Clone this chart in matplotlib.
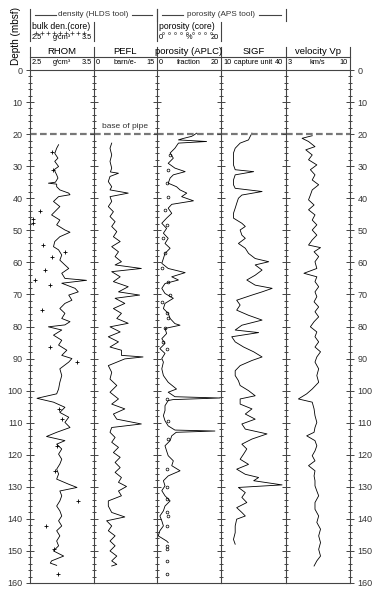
import numpy as np
import matplotlib.pyplot as plt
from matplotlib.ticker import MultipleLocator

plt.rcParams['font.family'] = ['Liberation Sans', 'DejaVu Sans']

# ---- log data (depth in mbsf, value in track units) ----
rhom_depth = [23.3, 24.4, 26.0, 27.5, 28.5, 30.1, 31.1, 32.7, 33.7, 35.0, 35.3, 35.6, 36.4, 37.4,
              38.4, 38.9, 39.5, 41.0, 42.6, 44.2, 45.2, 46.8, 48.3, 49.9, 50.6, 52.0, 53.5, 55.1,
              56.1, 57.7, 59.3, 60.8, 61.9, 63.4, 65.0, 65.6, 66.5, 68.1, 69.2, 70.2, 71.8, 72.8,
              74.4, 75.9, 77.5, 78.5, 79.5, 80.1, 81.1, 82.7, 84.3, 85.8, 87.4, 89.0, 90.0, 91.1,
              93.2, 95.3, 97.4, 99.5, 101.0, 102.4, 103.6, 105.2, 106.8, 108.3, 109.9, 111.5,
              113.0, 114.3, 115.6, 116.7, 118.2, 119.8, 121.4, 122.9, 124.5, 126.0, 127.6, 129.2,
              130.2, 131.3, 132.8, 134.4, 136.0, 137.5, 139.1, 140.6, 142.2, 143.7, 145.3, 146.9,
              148.4, 150.0, 151.6, 153.1, 153.8, 154.5]
rhom = [2.95, 2.92, 2.89, 2.94, 2.89, 2.95, 2.88, 2.92, 2.94, 2.90, 2.79, 2.92, 2.92, 2.97,
        3.11, 3.13, 2.95, 2.87, 2.97, 2.89, 2.84, 2.97, 2.92, 3.05, 3.13, 2.97, 2.89, 2.87,
        2.95, 3.00, 2.97, 3.05, 3.11, 3.00, 3.05, 3.39, 3.00, 3.21, 3.26, 3.11, 3.16, 3.05,
        2.97, 3.05, 3.00, 3.13, 3.05, 2.79, 3.00, 2.87, 3.00, 2.95, 3.08, 3.00, 3.16, 3.11,
        2.97, 3.00, 2.97, 2.95, 2.92, 2.61, 2.87, 3.05, 2.97, 3.11, 3.05, 3.13,
        2.92, 2.76, 3.05, 2.92, 3.00, 2.95, 3.00, 2.97, 2.92, 2.95, 2.92, 3.11,
        3.24, 2.97, 3.00, 2.97, 2.92, 2.97, 3.00, 2.95, 3.00, 2.92, 2.97, 2.92,
        2.95, 2.87, 3.03, 2.84, 2.82, 2.92]

core_den_depth = [25.5, 31.3, 44.0, 46.5, 47.8, 54.6, 56.7, 58.3, 62.5, 65.5, 67.1, 74.8,
                  86.5, 91.0, 105.7, 108.9, 117.2, 125.0, 134.4, 142.2, 149.5, 157.3]
core_den = [2.85, 2.86, 2.66, 2.55, 2.55, 2.70, 3.05, 2.85, 2.74, 2.58, 2.82, 2.69,
            2.81, 3.24, 2.96, 3.00, 2.92, 2.89, 3.25, 2.75, 2.88, 2.94]

pefl_depth = [22.8, 24.4, 26.5, 28.5, 30.6, 31.8, 32.2, 33.2, 34.8, 36.4, 37.4, 38.4, 39.5,
              41.0, 42.6, 44.2, 45.7, 47.3, 48.8, 50.4, 52.0, 53.5, 55.1, 56.7, 58.2, 59.8,
              60.8, 61.9, 62.9, 64.5, 66.0, 67.6, 69.2, 70.2, 71.2, 72.8, 74.4, 75.9, 77.5,
              79.0, 80.1, 81.7, 83.2, 84.8, 86.4, 87.4, 89.0, 89.5, 90.1, 92.2, 94.3, 96.4,
              98.4, 100.5, 102.6, 104.2, 105.7, 107.3, 108.9, 110.4, 111.5, 113.0, 114.6,
              116.1, 117.7, 119.3, 120.8, 122.4, 124.0, 125.5, 127.1, 128.6, 129.9, 131.3,
              132.8, 134.4, 136.0, 138.0, 139.4, 140.6, 142.2, 143.7, 145.3, 146.9, 148.4,
              150.0, 151.6, 153.1, 154.2, 154.7]
pefl = [4.3, 3.9, 4.3, 3.9, 4.3, 4.0, 5.9, 3.9, 3.5, 4.3, 3.9, 8.2, 3.9,
        4.3, 3.5, 4.7, 3.9, 5.1, 4.3, 5.5, 4.7, 6.3, 4.3, 5.9, 5.1, 6.6,
        5.1, 11.3, 4.3, 6.3, 4.7, 8.2, 5.9, 10.9, 5.1, 7.4, 4.7, 6.6, 5.5,
        8.2, 3.9, 6.3, 3.5, 5.9, 3.9, 6.6, 6.6, 11.7, 7.4, 3.5, 4.3, 3.9,
        5.5, 3.9, 5.9, 4.3, 7.4, 4.7, 5.5, 11.3, 4.3, 3.9, 5.1,
        4.3, 5.9, 4.7, 6.3, 5.1, 6.3, 5.1, 6.6, 5.9, 7.8, 5.9,
        6.6, 3.5, 3.5, 4.3, 7.4, 3.1, 4.3, 3.5, 5.1, 3.9, 5.1,
        3.9, 5.5, 4.3, 5.5, 4.3]

aplc_depth = [19.7, 20.3, 20.7, 21.4, 21.8, 22.3, 22.8, 24.4, 25.9, 27.5, 29.1, 30.6, 31.7,
              32.7, 33.7, 35.3, 36.4, 37.4, 38.4, 39.5, 40.8, 41.9, 43.1, 44.7, 46.2, 47.8,
              49.4, 50.9, 52.5, 54.1, 55.6, 57.2, 58.8, 60.3, 61.9, 63.2, 64.5, 65.5, 66.6,
              68.1, 69.7, 71.2, 72.8, 74.4, 75.9, 77.5, 79.1, 79.6, 80.6, 82.2, 83.8, 85.3,
              86.9, 88.4, 90.0, 91.1, 93.2, 95.3, 97.4, 99.5, 100.5, 101.9, 102.3, 102.8,
              103.1, 104.7, 106.2, 107.8, 109.4, 111.0, 112.3, 112.6, 113.0, 114.1, 115.6,
              117.2, 118.8, 120.3, 121.9, 123.4, 125.0, 126.6, 128.1, 129.7, 131.2, 132.8,
              134.4, 136.0, 137.5, 139.1, 140.6, 142.2, 143.7, 145.3, 146.9, 147.4]
aplc = [12.4, 11.5, 10.8, 8.0, 6.7, 15.5, 6.7, 5.6, 4.1, 5.1, 3.5, 5.6, 8.8,
        5.1, 4.1, 3.5, 6.1, 7.2, 9.3, 7.7, 11.4, 4.6, 3.5, 4.6, 3.0, 1.5,
        3.0, 2.0, 3.5, 2.5, 4.1, 2.5, 2.0, 1.5, 3.5, 8.8, 4.6, 6.7, 2.5,
        1.5, 2.5, 5.1, 2.5, 2.0, 3.5, 4.1, 5.6, 7.2, 2.5, 3.0, 1.5, 2.5,
        0.9, 2.5, 1.5, 2.0, 1.5, 2.0, 3.5, 6.1, 3.5, 5.6, 19.7, 5.0,
        3.5, 2.5, 2.5, 2.0, 2.5, 3.5, 5.6, 18.1, 6.0, 4.6, 4.1,
        2.5, 3.0, 3.5, 5.1, 4.6, 7.2, 3.5, 2.0, 2.5, 1.5, 2.5,
        4.1, 2.5, 2.0, 0.9, 1.5, 2.0, 0.9, 0.4, 3.0, 3.5]

core_por_depth = [26.5, 31.1, 35.3, 39.5, 43.6, 48.3, 52.5, 57.2, 61.9, 66.0, 70.2, 72.3,
                  75.9, 77.5, 80.6, 84.8, 86.9, 102.6, 109.4, 115.1, 124.5, 130.2, 133.9,
                  138.0, 139.1, 142.2, 148.4, 149.5, 153.1, 157.3]
core_por = [4.1, 3.5, 3.0, 3.5, 2.5, 3.0, 2.0, 2.5, 1.5, 3.5, 4.1, 1.5,
            3.0, 3.5, 2.5, 2.0, 3.0, 3.0, 3.5, 3.5, 3.0, 3.0, 3.0,
            3.0, 3.5, 3.0, 3.0, 3.0, 3.0, 3.0]

sigf_depth = [19.7, 20.7, 21.8, 22.8, 24.4, 25.9, 27.5, 29.6, 31.1, 31.7, 32.7, 34.3, 35.8,
              36.9, 37.9, 39.0, 40.0, 41.6, 43.1, 44.7, 46.2, 47.8, 48.8, 49.9, 51.5, 52.5,
              54.1, 55.6, 57.2, 58.8, 59.8, 60.8, 62.4, 64.0, 65.5, 67.1, 68.1, 69.2, 70.2,
              71.8, 73.3, 74.9, 76.5, 78.0, 79.6, 81.1, 81.9, 83.2, 84.8, 86.4, 87.9, 89.5,
              90.6, 92.2, 93.8, 95.3, 96.9, 98.4, 100.0, 101.6, 102.6, 104.2, 105.7, 107.3,
              108.9, 110.4, 112.0, 113.5, 115.1, 116.7, 118.2, 119.8, 121.4, 123.0, 124.5,
              126.1, 127.1, 128.1, 129.4, 130.2, 131.8, 133.3, 134.9, 136.5, 138.0, 139.1,
              140.1, 142.2, 144.3, 146.4, 147.9]
sigf = [24.4, 23.6, 22.8, 18.9, 16.6, 15.8, 15.8, 15.8, 16.6, 25.2, 16.6, 15.8, 15.8,
        16.6, 29.1, 19.7, 18.1, 17.3, 16.6, 15.8, 15.8, 19.7, 21.3, 18.9, 19.7, 21.3,
        18.1, 21.3, 22.8, 25.9, 32.2, 25.9, 29.1, 25.9, 22.0, 25.9, 33.8, 29.1, 24.4,
        17.3, 18.9, 17.3, 22.8, 29.1, 19.7, 16.6, 27.5, 15.0, 16.6, 20.5, 25.2, 29.1,
        24.4, 18.9, 16.6, 16.6, 18.1, 18.9, 22.8, 25.9, 18.9, 18.9, 24.4, 21.3,
        25.9, 19.7, 21.3, 31.4, 24.4, 19.7, 22.0, 20.5, 18.9, 22.8, 17.3,
        21.3, 27.5, 25.2, 38.4, 18.1, 21.3, 19.7, 22.0, 17.3, 19.7, 21.3,
        17.3, 16.6, 16.6, 15.8, 16.6]

vp_depth = [20.5, 21.3, 22.3, 23.9, 24.9, 26.5, 28.0, 29.6, 31.1, 32.7, 34.3, 35.8, 37.4,
            39.0, 40.5, 42.1, 43.6, 45.2, 46.8, 48.3, 49.9, 51.5, 53.0, 54.6, 55.4, 56.7,
            58.2, 59.8, 61.9, 63.4, 64.5, 66.0, 67.6, 69.2, 70.7, 72.3, 73.9, 75.4, 77.0,
            78.5, 80.1, 81.7, 83.2, 84.8, 86.4, 87.9, 89.5, 91.1, 93.2, 95.3, 97.4, 99.5,
            101.0, 102.6, 103.6, 105.7, 107.8, 109.9, 111.5, 113.0, 114.1, 115.6, 117.2,
            118.8, 120.3, 121.9, 123.4, 125.0, 126.6, 128.1, 129.7, 131.3, 132.8, 134.9,
            137.0, 139.1, 141.1, 143.2, 145.3, 147.4, 149.5, 151.6, 153.1, 154.7]
vp = [5.9, 4.8, 5.5, 6.2, 5.2, 5.9, 5.5, 6.4, 5.7, 6.2, 5.9, 6.6, 5.9,
      5.7, 5.5, 6.1, 5.5, 6.2, 5.9, 6.4, 5.9, 6.4, 5.9, 5.5, 6.8, 6.1,
      6.6, 6.2, 6.4, 5.0, 6.4, 6.2, 6.6, 6.2, 6.4, 6.1, 6.6, 6.2, 6.6,
      6.1, 5.7, 6.4, 6.2, 6.6, 6.2, 6.8, 6.4, 6.2, 6.6, 6.4, 6.6, 5.9,
      5.3, 4.4, 5.9, 6.1, 6.2, 6.4, 6.2, 6.1, 5.3, 6.2, 6.4,
      6.2, 5.9, 6.2, 5.5, 6.2, 6.1, 6.2, 6.2, 6.4, 6.6, 6.2,
      6.2, 6.6, 6.4, 6.8, 6.6, 6.8, 6.6, 6.8, 6.4, 6.1]

pipe_depth = 20

# track setup: (title, unit, xmin, xmax)
tracks = [
    ("RHOM", "g/cm\u00b3", 2.5, 3.5),
    ("PEFL", "barn/e-", 0, 15),
    ("porosity (APLC)", "fraction", 0, 20),
    ("SIGF", "capture unit", 10, 40),
    ("velocity Vp", "km/s", 3, 10),
]
curves = [(rhom_depth, rhom), (pefl_depth, pefl), (aplc_depth, aplc),
          (sigf_depth, sigf), (vp_depth, vp)]

W, H = 383, 597
fig = plt.figure(figsize=(W / 100, H / 100), dpi=100)

edges = [30, 93.5, 157, 221, 285.5, 350]
top_px, bot_px = 70, 583
line_col = '#444444'

axes = []
for i, (title, unit, xmin, xmax) in enumerate(tracks):
    x0, x1 = edges[i], edges[i + 1]
    ax = fig.add_axes([x0 / W, 1 - bot_px / H, (x1 - x0) / W, (bot_px - top_px) / H])
    ax.set_xlim(xmin, xmax)
    ax.set_ylim(160, 0)
    d, v = curves[i]
    ax.plot(v, d, color='black', lw=0.6)
    ax.axhline(pipe_depth, color='#777777', lw=1.6, dashes=(3, 1.5))
    ax.set_xticks([])
    ax.yaxis.set_major_locator(MultipleLocator(10))
    ax.yaxis.set_minor_locator(MultipleLocator(2))
    last = i == len(tracks) - 1
    ax.tick_params(axis='y', which='both', direction='inout', color=line_col, width=0.7,
                   left=True, right=last, labelleft=(i == 0), labelright=last,
                   labelsize=6.5, labelcolor='#333333', pad=2.5)
    ax.tick_params(axis='y', which='major', length=6)
    ax.tick_params(axis='y', which='minor', length=3.5)
    for s in ax.spines.values():
        s.set_color(line_col)
        s.set_linewidth(0.8)
    ax.spines['right'].set_visible(last)
    axes.append(ax)

axes[0].plot(core_den, core_den_depth, ls='none', marker='+', ms=3, mew=0.6, color='black')
axes[2].plot(core_por, core_por_depth, ls='none', marker='o', ms=2, mew=0.5,
             mfc='none', color='black')
axes[1].text(0.5, pipe_depth - 1.2, 'base of pipe', transform=axes[1].get_yaxis_transform(),
             ha='center', va='bottom', fontsize=6, color='#333333')

# ---- header drawn in pixel coordinates ----
ov = fig.add_axes([0, 0, 1, 1])
ov.set_xlim(0, W)
ov.set_ylim(H, 0)
ov.axis('off')

fs_title = 6.8
fs_small = 5.3

# vertical column lines above the plot
for x in edges:
    ov.plot([x, x], [47, top_px], color=line_col, lw=0.8)
ov.plot([edges[0], edges[-1]], [56.5, 56.5], color=line_col, lw=0.8)

for i, (title, unit, xmin, xmax) in enumerate(tracks):
    x0, x1 = edges[i], edges[i + 1]
    ov.text((x0 + x1) / 2, 51.5, title, ha='center', va='center', fontsize=fs_title)
    ov.text(x0 + 2, 62, f"{xmin:g}", ha='left', va='center', fontsize=fs_small)
    ov.text(x1 - 2, 62, f"{xmax:g}", ha='right', va='center', fontsize=fs_small)
    ov.text((x0 + x1) / 2, 62, unit, ha='center', va='center', fontsize=fs_small)

# core legends
core_heads = [("bulk den.(core)", "g/cm\u00b3", "2.5", "3.5", 0, '+'),
              ("porosity (core)", "%", "0", "20", 2, 'o')]
for name, unit, lo, hi, i, mk in core_heads:
    x0, x1 = edges[i], edges[i + 1]
    ov.plot([x0, x0], [22, 41], color=line_col, lw=0.8)
    ov.plot([x1, x1], [22, 41], color=line_col, lw=0.8)
    ov.text(x0 + 2, 26.5, name, ha='left', va='center', fontsize=6.2)
    xs = np.arange(x0 + 6, x1 - 4, 6)
    if mk == '+':
        ov.plot(xs, np.full(len(xs), 32.5), ls='none', marker='+', ms=2.2, mew=0.5, color='#333333')
    else:
        ov.plot(xs, np.full(len(xs), 32.5), ls='none', marker='o', ms=1.5, mew=0.4,
                mfc='none', color='#333333')
    ov.text(x0 + 2, 37.8, lo, ha='left', va='center', fontsize=fs_small)
    ov.text(x1 - 2, 37.8, hi, ha='right', va='center', fontsize=fs_small)
    ov.text((x0 + x1) / 2, 37.8, unit, ha='center', va='center', fontsize=fs_small)

# tool groups
groups = [("density (HLDS tool)", 0, 2), ("porosity (APS tool)", 2, 4)]
for name, a, b in groups:
    x0, x1 = edges[a], edges[b]
    xc = (x0 + x1) / 2
    ov.text(xc, 15, name, ha='center', va='center', fontsize=5.9, color='#333333')
    ov.plot([x0 + 5, xc - 38], [15, 15], color=line_col, lw=0.8)
    ov.plot([xc + 38, x1 - 5], [15, 15], color=line_col, lw=0.8)
    ov.plot([x0, x0], [9, 21], color=line_col, lw=0.8)
    ov.plot([x1, x1], [9, 21], color=line_col, lw=0.8)

ov.text(16, 36, 'Depth (mbsf)', rotation=90, ha='center', va='center', fontsize=7.2)

fig.savefig('out.png', dpi=100)
